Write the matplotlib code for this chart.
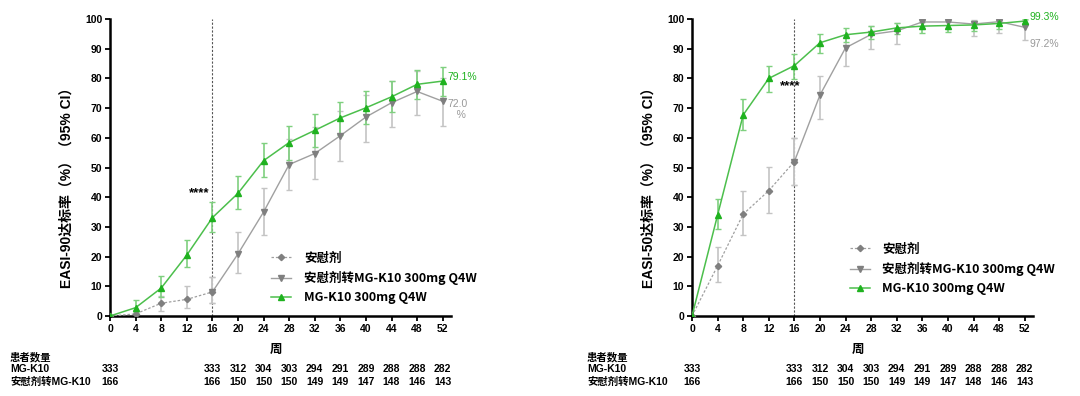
import matplotlib.pyplot as plt
import matplotlib.lines as mlines
import numpy as np

plt.rcParams['font.family'] = ['Liberation Sans', 'Noto Sans CJK SC', 'DejaVu Sans']

# ---- data ----
weeks = [0, 4, 8, 12, 16, 20, 24, 28, 32, 36, 40, 44, 48, 52]
pbo_weeks = [0, 4, 8, 12, 16]
sw_weeks = [16, 20, 24, 28, 32, 36, 40, 44, 48, 52]

# EASI-90
e90_mg = [0, 2.8, 9.4, 20.5, 33.1, 41.3, 52.3, 58.4, 62.5, 66.7, 70.1, 73.8, 78.0, 79.1]
e90_mg_lo = [0, 1.4, 6.5, 16.6, 28.2, 35.9, 46.7, 52.5, 56.8, 61.1, 64.6, 68.6, 73.1, 74.0]
e90_mg_hi = [0, 5.4, 13.5, 25.6, 38.5, 47.1, 58.1, 64.1, 68.1, 72.2, 75.6, 79.0, 82.8, 83.7]
e90_pbo = [0, 0.7, 4.3, 5.6, 8.1]
e90_pbo_lo = [0, 0.0, 1.7, 2.6, 4.3]
e90_pbo_hi = [0, 1.8, 6.7, 10.1, 13.0]
e90_sw = [8.1, 20.9, 35.0, 51.0, 54.7, 60.7, 67.0, 71.8, 75.6, 72.3]
e90_sw_lo = [4.3, 14.6, 27.2, 42.3, 46.0, 52.1, 58.5, 63.7, 67.6, 64.0]
e90_sw_hi = [13.0, 28.2, 43.0, 59.5, 63.5, 69.0, 74.4, 79.0, 82.6, 80.0]

# EASI-50
e50_mg = [0, 34.0, 67.7, 80.0, 84.3, 92.0, 94.7, 95.6, 97.0, 97.6, 97.8, 98.0, 98.5, 99.3]
e50_mg_lo = [0, 29.2, 62.6, 75.5, 79.9, 88.4, 92.3, 93.3, 95.1, 95.3, 95.5, 95.8, 96.6, 98.0]
e50_mg_hi = [0, 39.5, 72.9, 84.3, 88.3, 94.8, 97.1, 97.8, 98.8, 99.1, 99.2, 99.3, 99.5, 99.9]
e50_pbo = [0, 16.9, 34.3, 42.2, 52.0]
e50_pbo_lo = [0, 11.6, 27.2, 34.6, 44.0]
e50_pbo_hi = [0, 23.3, 42.1, 50.1, 59.9]
e50_sw = [52.0, 74.4, 90.3, 94.8, 96.0, 99.0, 99.0, 98.3, 99.1, 97.2]
e50_sw_lo = [44.0, 66.3, 84.1, 89.8, 91.5, 96.5, 96.5, 94.3, 95.2, 93.0]
e50_sw_hi = [59.9, 80.8, 94.5, 97.8, 98.6, 99.8, 99.8, 99.5, 99.8, 99.6]

n_weeks = [0, 16, 20, 24, 28, 32, 36, 40, 44, 48, 52]
n_mg = [333, 333, 312, 304, 303, 294, 291, 289, 288, 288, 282]
n_sw = [166, 166, 150, 150, 150, 149, 149, 147, 148, 146, 143]

legend_labels = ['安慰剂', '安慰剂转MG-K10 300mg Q4W', 'MG-K10 300mg Q4W']

GREEN = '#1fb21f'
GREEN_LINE = '#4cbf4c'
GREEN_ERR = '#7fd07f'
GRAY = '#7f7f7f'
GRAY_LINE = '#a0a0a0'
GRAY_ERR = '#c4c4c4'


def err(v, lo, hi):
    v, lo, hi = np.array(v), np.array(lo), np.array(hi)
    return np.vstack([v - lo, hi - v])


def panel(fig, rect, ylabel, mg, mg_lo, mg_hi, pbo, pbo_lo, pbo_hi, sw, sw_lo, sw_hi,
          star_xy, legend_xy, lab_mg, lab_sw, lab_sw_y, table_x):
    ax = fig.add_axes(rect)
    ax.axvline(16, color='#555555', lw=0.8, ls=(0, (2, 1.5)), zorder=1)

    ax.errorbar(pbo_weeks, pbo, yerr=err(pbo, pbo_lo, pbo_hi), fmt='none',
                ecolor=GRAY_ERR, elinewidth=1.2, capsize=2.5, capthick=1.0, zorder=2)
    ax.plot(pbo_weeks, pbo, color=GRAY_LINE, lw=0.9, ls=(0, (2, 1.5)),
            marker='D', ms=3.2, mfc=GRAY, mec=GRAY, zorder=4)

    ax.errorbar(sw_weeks, sw, yerr=err(sw, sw_lo, sw_hi), fmt='none',
                ecolor=GRAY_ERR, elinewidth=1.2, capsize=2.5, capthick=1.0, zorder=2)
    ax.plot(sw_weeks, sw, color=GRAY_LINE, lw=1.0,
            marker='v', ms=4.5, mfc=GRAY, mec=GRAY, zorder=4)

    ax.errorbar(weeks, mg, yerr=err(mg, mg_lo, mg_hi), fmt='none',
                ecolor=GREEN_ERR, elinewidth=1.2, capsize=2.5, capthick=1.0, zorder=3)
    ax.plot(weeks, mg, color=GREEN_LINE, lw=1.1,
            marker='^', ms=4.5, mfc=GREEN, mec=GREEN, zorder=5)

    ax.set_xlim(0, 53.3)
    ax.set_ylim(0, 100)
    ax.set_xticks(weeks)
    ax.set_yticks(range(0, 101, 10))
    for s in ['top', 'right']:
        ax.spines[s].set_visible(False)
    for s in ['left', 'bottom']:
        ax.spines[s].set_linewidth(1.8)
    ax.tick_params(width=1.3, length=3.5, labelsize=7.5, pad=2)
    for t in ax.get_xticklabels() + ax.get_yticklabels():
        t.set_fontweight('bold')
    ax.set_ylabel(ylabel, fontsize=10, fontweight='bold')
    ax.yaxis.set_label_coords(-0.106, 0.443)

    ax.text(star_xy[0], star_xy[1], '****', fontsize=9.5, fontweight='bold',
            ha='center', va='center')
    ax.text(52.8, mg[-1] + 1.5, lab_mg, color=GREEN, fontsize=7.5, ha='left', va='center')
    ax.text(52.8, lab_sw_y, lab_sw, color='#999999', fontsize=7.5, ha='left', va='center',
            linespacing=1.1)

    h1 = mlines.Line2D([], [], color=GRAY_LINE, lw=0.9, ls=(0, (2, 1.5)), marker='D',
                       ms=3.2, mfc=GRAY, mec=GRAY)
    h2 = mlines.Line2D([], [], color=GRAY_LINE, lw=1.0, marker='v', ms=4.5,
                       mfc=GRAY, mec=GRAY)
    h3 = mlines.Line2D([], [], color=GREEN_LINE, lw=1.1, marker='^', ms=4.5,
                       mfc=GREEN, mec=GREEN)
    ax.legend([h1, h2, h3], legend_labels, loc='upper left',
              bbox_to_anchor=legend_xy, frameon=False,
              handlelength=1.6, handletextpad=1.0, labelspacing=0.5,
              prop={'family': ['Noto Sans CJK SC'], 'weight': 'bold', 'size': 9})

    # number at risk table
    tr = ax.get_xaxis_transform()
    ax.text(26, -0.115, '周', transform=tr, ha='center', va='center',
            fontsize=9, fontweight='bold')
    for x, a, b in zip(n_weeks, n_mg, n_sw):
        ax.text(x, -0.178, str(a), transform=tr, ha='center', va='center',
                fontsize=7.5, fontweight='bold', clip_on=False)
        ax.text(x, -0.222, str(b), transform=tr, ha='center', va='center',
                fontsize=7.5, fontweight='bold', clip_on=False)
    fig.text(table_x, (396 - 357) / 396, '患者数量', fontsize=7.5, fontweight='bold',
             va='center', ha='left')
    fig.text(table_x, (396 - 369) / 396, 'MG-K10', fontsize=7.5, fontweight='bold',
             va='center', ha='left')
    fig.text(table_x, (396 - 382) / 396, '安慰剂转MG-K10', fontsize=7.5, fontweight='bold',
             va='center', ha='left')
    return ax


fig = plt.figure(figsize=(10.8, 3.96), dpi=100)

panel(fig, [110 / 1080, 80 / 396, 341 / 1080, 297 / 396],
      'EASI-90达标率（%）（95% CI）',
      e90_mg, e90_mg_lo, e90_mg_hi, e90_pbo, e90_pbo_lo, e90_pbo_hi,
      e90_sw, e90_sw_lo, e90_sw_hi,
      star_xy=(14, 41.5), legend_xy=(0.44, 0.255),
      lab_mg='79.1%', lab_sw='72.0\n   %', lab_sw_y=69.5, table_x=10 / 1080)

panel(fig, [692 / 1080, 80 / 396, 341 / 1080, 297 / 396],
      'EASI-50达标率（%）（95% CI）',
      e50_mg, e50_mg_lo, e50_mg_hi, e50_pbo, e50_pbo_lo, e50_pbo_hi,
      e50_sw, e50_sw_lo, e50_sw_hi,
      star_xy=(15.4, 77.5), legend_xy=(0.43, 0.285),
      lab_mg='99.3%', lab_sw='97.2%', lab_sw_y=91.5, table_x=587 / 1080)

fig.savefig('out.png', dpi=100)
